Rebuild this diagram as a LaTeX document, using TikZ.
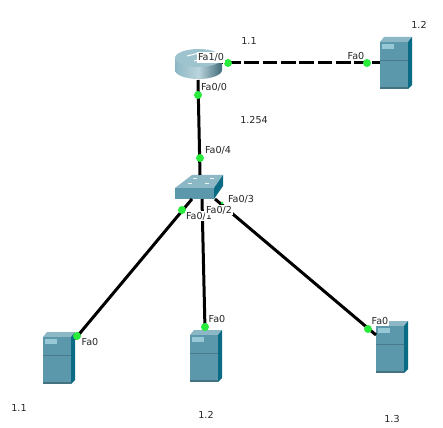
\documentclass[tikz,border=0pt]{standalone}
\usepackage{fontspec}
\setmainfont{DejaVu Sans}
\usetikzlibrary{calc}
\definecolor{srvfront}{RGB}{92,152,172}
\definecolor{srvtop}{RGB}{140,184,198}
\definecolor{srvside}{RGB}{10,108,132}
\definecolor{srvbay}{RGB}{150,200,214}
\definecolor{linkgreen}{RGB}{40,235,60}
\tikzset{
  lbl/.style={font=\fontsize{9.6}{10}\selectfont,inner sep=0.6pt,text=black!85},
  plbl/.style={lbl,fill=white,inner sep=1pt},
  wire/.style={line width=3pt,black},
  dashwire/.style={wire,dash pattern=on 14.8pt off 3.5pt,dash phase=-4pt},
  dot/.style={circle,fill=linkgreen,inner sep=0pt,minimum size=8pt},
}
% #1 name, #2 left, #3 top of front, #4 bottom
\newcommand{\srv}[4]{%
  \fill[srvtop] (#2,#3) -- (#2+4,#3-5) -- (#2+32,#3-5) -- (#2+28,#3) -- cycle;
  \fill[srvside] (#2+28,#3) -- (#2+32,#3-5) -- (#2+32,#4-4) -- (#2+28,#4) -- cycle;
  \fill[srvfront] (#2,#3) rectangle (#2+28,#4);
  \fill[srvbay] (#2+2,#3+2) rectangle (#2+14,#3+7);
  \draw[srvfront!80!black,line width=.3pt] (#2,#3+18) -- (#2+28,#3+18);
  \fill[srvfront!75!black] (#2,#4-2) rectangle (#2+28,#4);
  \node[inner sep=0pt,minimum width=28pt,minimum height=#4pt-#3pt] (#1) at (#2+14,{(#3+#4)/2}) {};
}
\begin{document}
\begin{tikzpicture}[x=1pt,y=-1pt]
\useasboundingbox (0,0) rectangle (443,427);
\fill[white] (0,0) rectangle (443,427);
% devices
\srv{srvA}{380}{42}{89}
\srv{srvB}{43}{337}{384}
\srv{srvC}{190}{335}{382}
\srv{srvD}{376}{326}{373}
% router
\shade[left color=srvfront!70!white,right color=srvfront!70!black,middle color=srvtop!60!white]
  (175,58) -- (175,70) arc[start angle=180,end angle=0,x radius=23.5,y radius=9] -- (222,58) -- cycle;
\fill[srvtop!85!white] (198.5,58) ellipse[x radius=23.5,y radius=9];
\draw[white,line width=1pt] (187,56) -- (199,53) (194,61) -- (206,58);
\node[inner sep=0pt,minimum width=47pt,minimum height=30pt] (router) at (198.5,64) {};
% switch
\fill[srvtop] (175,188) -- (192,175) -- (223,175) -- (214,188) -- cycle;
\fill[srvfront] (175,188) rectangle (214,199);
\fill[srvside] (214,188) -- (223,175) -- (223,186) -- (214,199) -- cycle;
\foreach \a/\b in {188/184,205/184,193/179,210/179}{\fill[white!85!srvtop] (\a,\b) rectangle +(4,-1);}
\node[inner sep=0pt,minimum width=48pt,minimum height=24pt] (switch) at (199,187) {};
% anchors
\coordinate (rE) at (222,63);
\coordinate (rS) at (198,80);
\coordinate (aW) at (380,63);
\coordinate (swN) at (200,175);
\coordinate (sw1) at (192,199);
\coordinate (sw2) at (202,199);
\coordinate (sw3) at (215,199);
\coordinate (bNE) at (75,339);
\coordinate (cN) at (205,330);
\coordinate (dNW) at (376,335);
% connectors
\draw[dashwire] (rE) -- (aW);
\draw[wire] (rS) -- (swN);
\draw[wire] (sw1) -- (bNE);
\draw[wire] (sw2) -- (cN);
\draw[wire] (sw3) -- (dNW);
% link lights
\node[dot] (l1) at (228,63) {};
\node[dot] (l2) at (367,63) {};
\node[dot] (l3) at (198,95) {};
\node[dot] (l4) at (200,158) {};
\node[dot] (l5) at (182,210) {};
\node[dot,minimum size=3pt] (l6) at (222,203) {};
\node[dot] (l7) at (77,336) {};
\node[dot] (l8) at (205,327) {};
\node[dot] (l9) at (368,329) {};
% labels
\node[plbl] (t7) at (199,216) {Fa0/1};
\node[plbl] (t8) at (219,210) {Fa0/2};
\node[plbl] (t1) at (211,57.5) {Fa1/0};
\node[lbl] (t2) at (214,87) {Fa0/0};
\node[lbl] (t3) at (249,41) {1.1};
\node[lbl] (t4) at (254,120) {1.254};
\node[lbl] (t5) at (218,150) {Fa0/4};
\node[lbl] (t6) at (241,199) {Fa0/3};
\node[lbl] (t9) at (356,56) {Fa0};
\node[lbl] (t10) at (419,25) {1.2};
\node[lbl] (t11) at (90,342) {Fa0};
\node[lbl] (t12) at (19,408) {1.1};
\node[lbl] (t13) at (217,319) {Fa0};
\node[lbl] (t14) at (206,415) {1.2};
\node[plbl] (t15) at (380,321) {Fa0};
\node[lbl] (t16) at (392,419) {1.3};
\end{tikzpicture}
\end{document}
